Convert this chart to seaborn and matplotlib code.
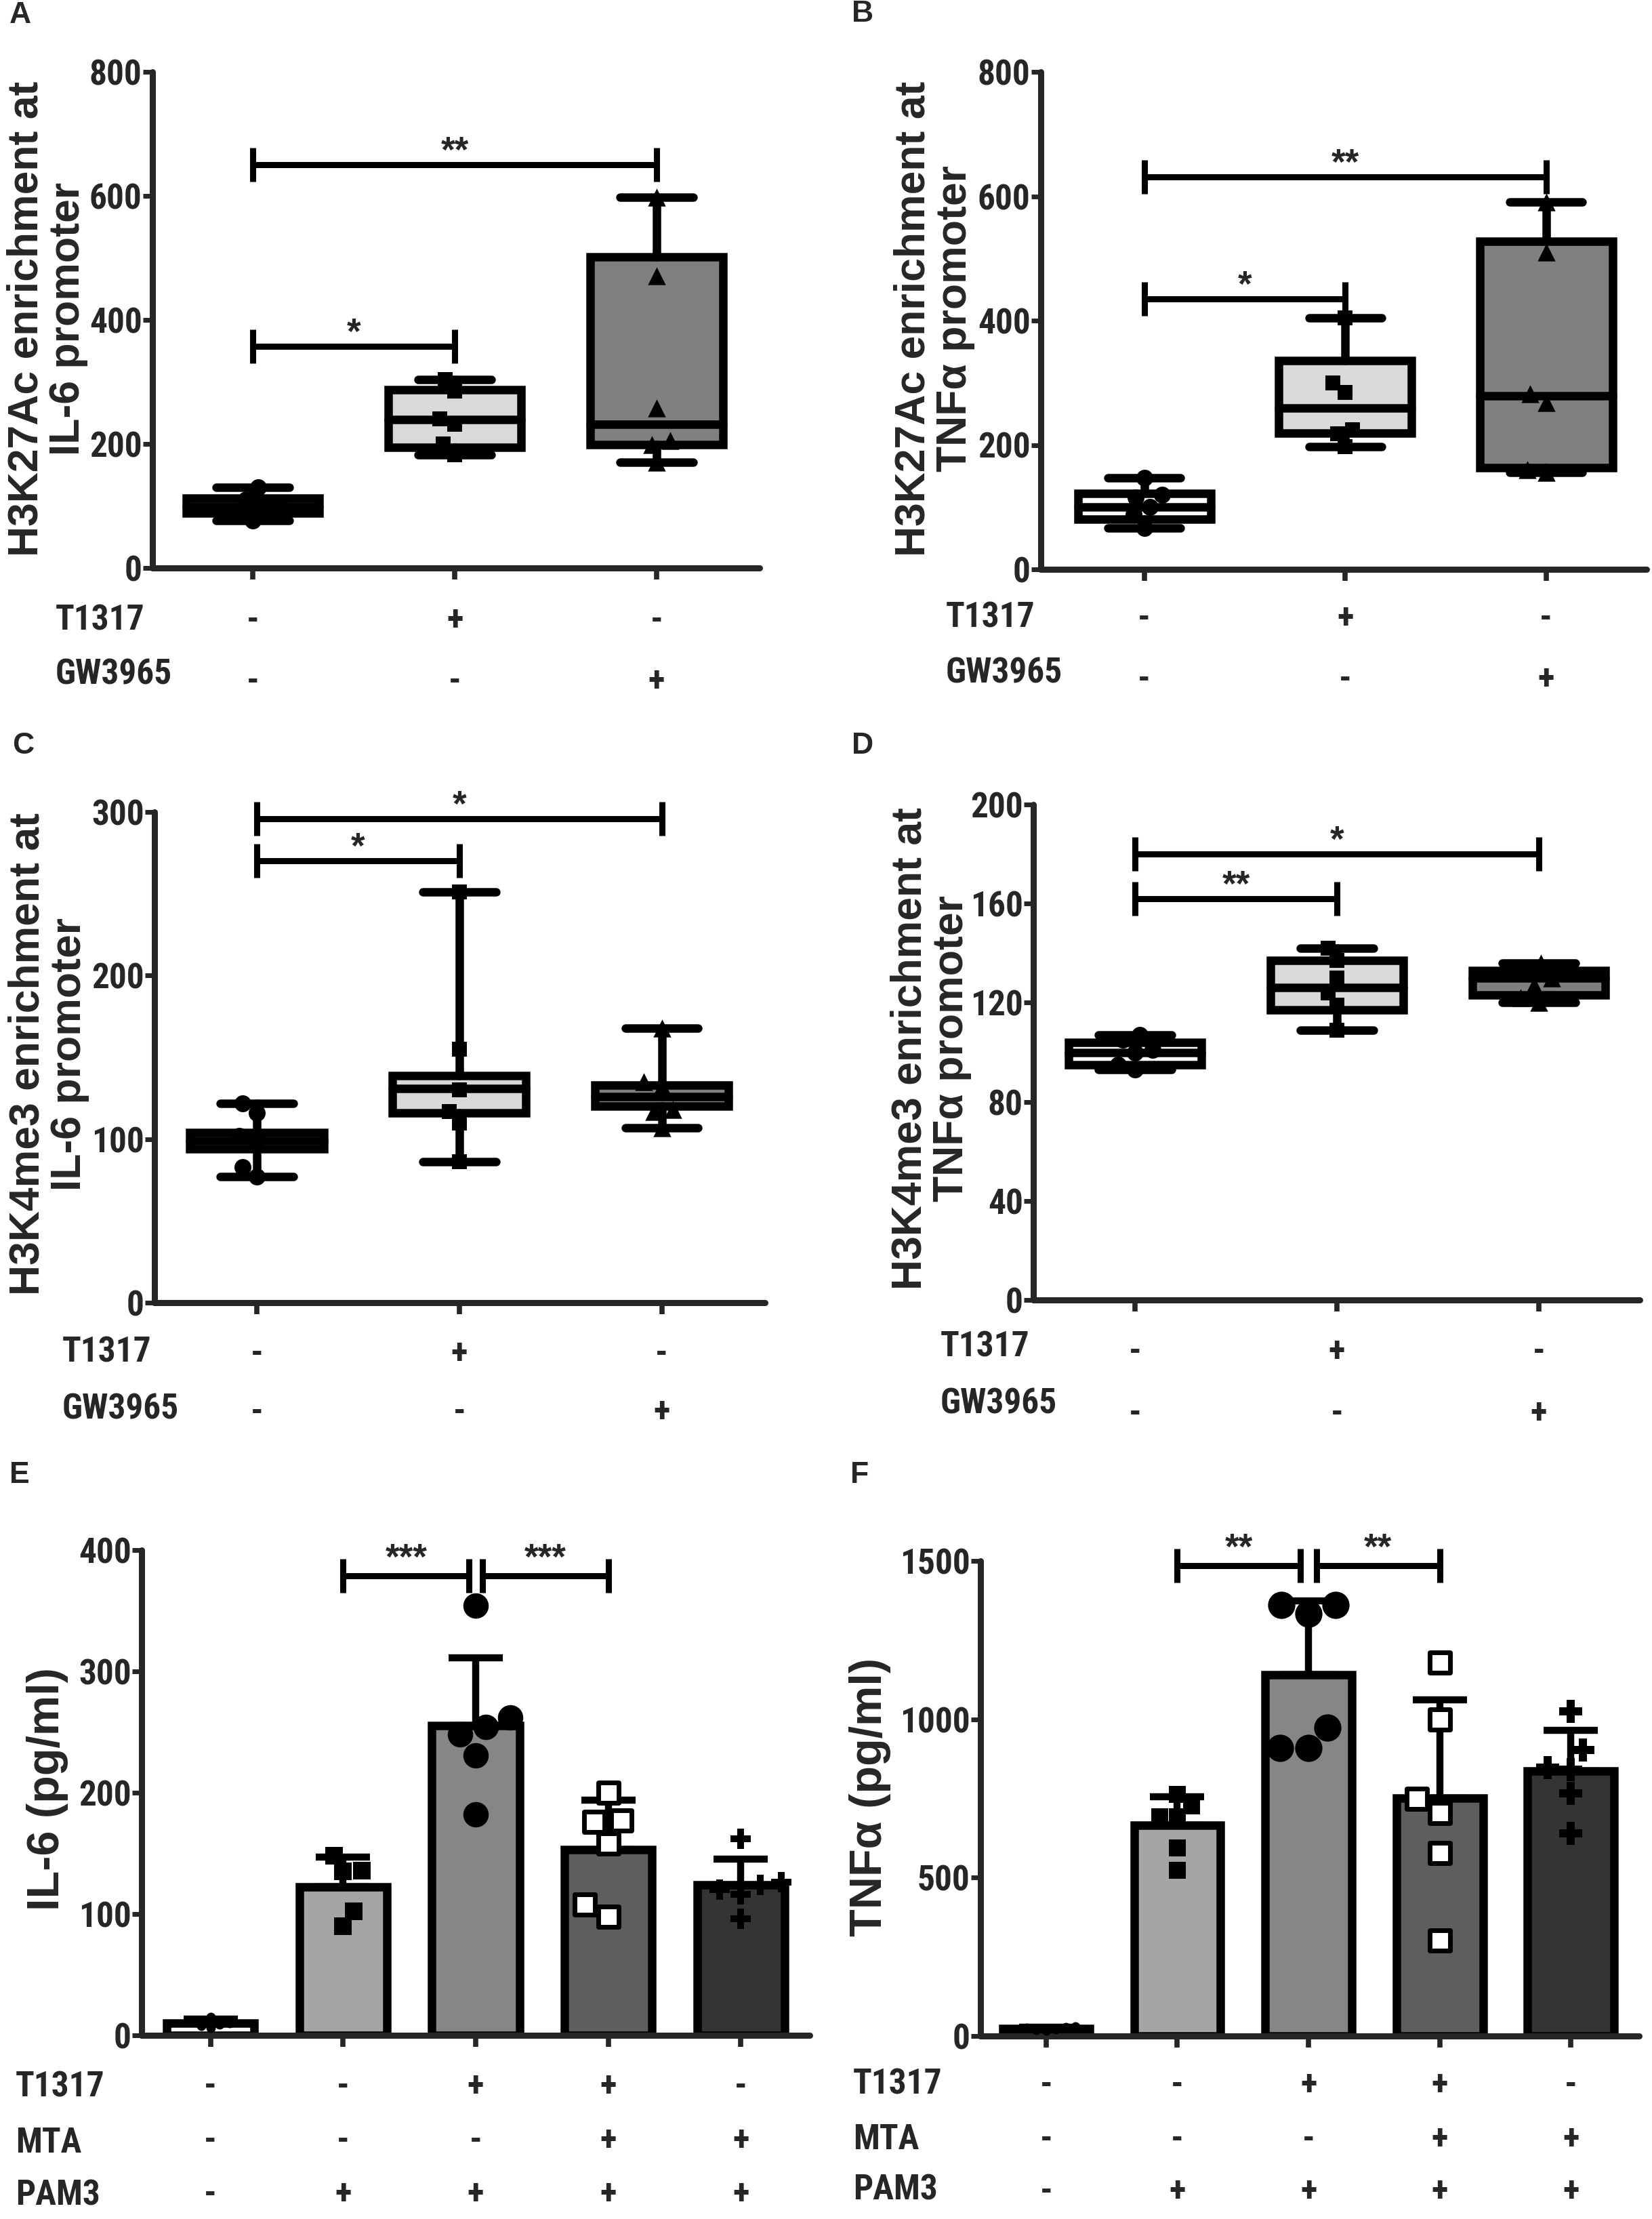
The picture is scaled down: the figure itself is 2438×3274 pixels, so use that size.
import matplotlib
matplotlib.use("Agg")
import matplotlib.pyplot as plt
import matplotlib.transforms as mtransforms
from matplotlib import font_manager as fm
import numpy as np
import pandas as pd
import seaborn as sns

# Global style, fonts are set after seaborn because set_style resets them
sns.set_style("ticks")
WIDE = ["Liberation Sans", "DejaVu Sans"]
plt.rcParams["font.family"] = WIDE
plt.rcParams["font.weight"] = "bold"

FIG_W, FIG_H = 2438, 3274
LW = 9


def find_narrow_bold():
    # GraphPad-like narrow bold face for tick labels, if one is installed
    prefer = ["liberation sans narrow", "arial narrow", "roboto condensed",
              "dejavu sans", "noto sans", "open sans"]
    found = []
    for f in fm.fontManager.ttflist:
        fn = f.fname.lower()
        nm = f.name.lower()
        narrow = ("narrow" in nm or "condensed" in nm or "narrow" in fn
                  or "condensed" in fn
                  or f.stretch in ("condensed", "semi-condensed", "extra-condensed"))
        bold = f.weight in ("bold", 700) or "bold" in fn
        if narrow and bold and "italic" not in fn and "oblique" not in fn \
                and "semibold" not in fn and "extrabold" not in fn:
            rank = next((i for i, p in enumerate(prefer) if nm.startswith(p)), 99)
            found.append((rank, f.fname))
    if not found:
        return None
    return sorted(found)[0][1]


NARROW_PATH = find_narrow_bold()
if NARROW_PATH:
    TICK_FONT = fm.FontProperties(fname=NARROW_PATH, size=37)
else:
    TICK_FONT = fm.FontProperties(family=WIDE, weight="bold", size=32)

# ---------------- data ----------------
box_groups = ["ctrl", "T1317", "GW3965"]
box_rows = ["T1317", "GW3965"]
box_signs = [["-", "+", "-"], ["-", "-", "+"]]

# Panel A: H3K27Ac at IL-6 promoter
a_points = [[130, 110, 105, 100, 85, 77],
            [304, 285, 240, 232, 200, 183],
            [598, 471, 258, 206, 199, 171]]
a_whislo = [77, 183, 171]
a_q1 = [88, 195, 199]
a_med = [99, 239, 232]
a_q3 = [113, 287, 502]
a_whishi = [130, 304, 598]

# Panel B: H3K27Ac at TNFa promoter
b_points = [[147, 120, 116, 100, 88, 66],
            [404, 300, 285, 225, 218, 197],
            [591, 510, 282, 268, 160, 156]]
b_whislo = [66, 197, 156]
b_q1 = [81, 219, 164]
b_med = [100, 259, 279]
b_q3 = [122, 336, 527]
b_whishi = [147, 404, 591]

# Panel C: H3K4me3 at IL-6 promoter
c_points = [[122, 116, 102, 100, 83, 77],
            [251, 155, 130, 117, 110, 86],
            [168, 135, 132, 118, 117, 107]]
c_whislo = [77, 86, 107]
c_q1 = [94, 116, 120]
c_med = [99, 131, 126]
c_q3 = [104, 139, 133]
c_whishi = [122, 251, 168]

# Panel D: H3K4me3 at TNFa promoter
d_points = [[107, 105, 101, 100, 95, 93],
            [142, 137, 130, 124, 119, 109],
            [136, 133, 130, 127, 122, 120]]
d_whislo = [93, 109, 120]
d_q1 = [95, 117, 123]
d_med = [100, 126, 130]
d_q3 = [104, 137, 133]
d_whishi = [107, 142, 136]

bar_groups = ["none", "PAM3", "PAM3+T1317", "PAM3+T1317+MTA", "PAM3+MTA"]
bar_rows = ["T1317", "MTA", "PAM3"]
bar_signs = [["-", "-", "+", "+", "-"],
             ["-", "-", "-", "+", "+"],
             ["-", "+", "+", "+", "+"]]

# Panel E: IL-6 (pg/ml)
e_points = [[15, 12, 10, 9, 8, 6],
            [148, 136, 135, 102, 90],
            [354, 262, 254, 248, 231, 182],
            [200, 177, 176, 158, 108, 98],
            [162, 126, 124, 120, 116, 96]]

# Panel F: TNFa (pg/ml)
f_points = [[30, 28, 25, 22, 20, 18],
            [763, 728, 694, 694, 594, 524],
            [1360, 1360, 1334, 974, 910, 910],
            [1179, 999, 748, 705, 578, 301],
            [1025, 902, 848, 840, 766, 640]]

# significance brackets: (start group, end group, height, label)
a_sig = [(0, 1, 357, "*"), (0, 2, 650, "**")]
b_sig = [(0, 1, 435, "*"), (0, 2, 631, "**")]
c_sig = [(0, 1, 270, "*"), (0, 2, 296, "*")]
d_sig = [(0, 1, 162, "**"), (0, 2, 180, "*")]
e_sig = [(1, 1.95, 379, "***"), (2.05, 3, 379, "***")]
f_sig = [(1, 1.94, 1485, "**"), (2.06, 3, 1485, "**")]

BOX_COLORS = ["white", "#d9d9d9", "#808080"]
BAR_COLORS = ["white", "#a4a4a9", "#868686", "#5e5e5e", "#343434"]
BOX_MARKERS = ["o", "s", "^"]
BOX_MSIZE = [18, 16, 19]


def make_axes(fig, left, right, top, bottom):
    return fig.add_axes([left / FIG_W, 1 - bottom / FIG_H,
                         (right - left) / FIG_W, (bottom - top) / FIG_H])


def long_frame(groups, points):
    rows = []
    for g, vals in zip(groups, points):
        for v in vals:
            rows.append({"group": g, "value": v})
    return pd.DataFrame(rows)


def style_axes(ax, n, ymax, yticks, xlim):
    ax.set_ylim(0, ymax)
    ax.set_xlim(*xlim)
    ax.set_yticks(yticks)
    ax.set_yticklabels([str(t) for t in yticks])
    ax.set_xticks(range(n))
    ax.set_xticklabels([])
    ax.set_xlabel("")
    ax.set_ylabel("")
    sns.despine(ax=ax)
    for side in ["left", "bottom"]:
        ax.spines[side].set_linewidth(6.5)
        ax.spines[side].set_capstyle("round")
    ax.tick_params(axis="y", width=5, length=10, pad=1)
    ax.tick_params(axis="x", width=5.5, length=12)
    for lbl in ax.get_yticklabels():
        lbl.set_fontproperties(TICK_FONT)


def add_brackets(ax, sig, star_off=4):
    # half height of the bracket ends, in data units (about 25 px)
    ymax = ax.get_ylim()[1]
    ax_h = ax.get_position().height * FIG_H
    h = ymax * 25 / ax_h
    off = ymax * star_off / ax_h
    for x0, x1, y, stars in sig:
        kw = dict(color="black", lw=6.5, clip_on=False, solid_capstyle="butt")
        ax.plot([x0, x1], [y, y], **kw)
        ax.plot([x0, x0], [y - h, y + h], **kw)
        ax.plot([x1, x1], [y - h, y + h], **kw)
        ax.text((x0 + x1) / 2, y + off, stars, ha="center", va="baseline",
                fontsize=38, family=WIDE, weight="bold")


def add_rows(fig, ax, rows, signs, row_x, row_y, sign_y):
    trans = mtransforms.blended_transform_factory(ax.transData, fig.transFigure)
    for name, marks, ry, sy in zip(rows, signs, row_y, sign_y):
        fig.text(row_x / FIG_W, 1 - ry / FIG_H, name, ha="left", va="center",
                 fontproperties=TICK_FONT)
        for i, s in enumerate(marks):
            ax.text(i, 1 - sy / FIG_H, s, transform=trans, ha="center",
                    va="center", fontproperties=TICK_FONT)


def box_panel(fig, rect, points, whislo, q1, med, q3, whishi, ymax, yticks,
              xlim, sig, ylabel, ylabel_xy, letter, letter_xy,
              row_x, row_y, sign_y):
    ax = make_axes(fig, *rect)
    df = long_frame(box_groups, points)

    stats = []
    for i in range(len(box_groups)):
        stats.append({"whislo": whislo[i], "q1": q1[i], "med": med[i],
                      "q3": q3[i], "whishi": whishi[i], "fliers": []})
    bp = ax.bxp(stats, positions=range(len(box_groups)), widths=0.66,
                capwidths=0.36, patch_artist=True, showfliers=False,
                manage_ticks=False,
                boxprops=dict(edgecolor="black", linewidth=LW),
                medianprops=dict(color="black", linewidth=LW,
                                 solid_capstyle="round"),
                whiskerprops=dict(color="black", linewidth=LW),
                capprops=dict(color="black", linewidth=LW,
                              solid_capstyle="round"))
    for patch, c in zip(bp["boxes"], BOX_COLORS):
        patch.set_facecolor(c)

    for g, m, s in zip(box_groups, BOX_MARKERS, BOX_MSIZE):
        sns.swarmplot(data=df[df["group"] == g], x="group", y="value",
                      order=box_groups, marker=m, size=s, color="black",
                      ax=ax, zorder=5, warn_thresh=1)

    style_axes(ax, len(box_groups), ymax, yticks, xlim)
    add_brackets(ax, sig)
    add_rows(fig, ax, box_rows, box_signs, row_x, row_y, sign_y)
    fig.text(ylabel_xy[0] / FIG_W, 1 - ylabel_xy[1] / FIG_H, ylabel,
             rotation=90, ha="center", va="center", multialignment="center",
             fontsize=45, family=WIDE, weight="bold", linespacing=1.05)
    fig.text(letter_xy[0] / FIG_W, 1 - letter_xy[1] / FIG_H, letter,
             ha="left", va="top", fontsize=32, family=WIDE, weight="bold")
    return ax


def bar_panel(fig, rect, points, ymax, yticks, xlim, sig, ylabel, ylabel_xy,
              letter, letter_xy, row_x, row_y, sign_y, sizes):
    ax = make_axes(fig, *rect)
    df = long_frame(bar_groups, points)

    sns.barplot(data=df, x="group", y="value", order=bar_groups, hue="group",
                hue_order=bar_groups, palette=BAR_COLORS, legend=False,
                errorbar=None, width=0.66, edgecolor="black", linewidth=LW,
                ax=ax)

    # mean + SD, drawn upwards only
    grp = df.groupby("group")["value"]
    means = grp.mean().reindex(bar_groups).values
    sds = grp.std().reindex(bar_groups).values
    n = len(bar_groups)
    ax.errorbar(range(n), means, yerr=[np.zeros(n), sds], fmt="none",
                ecolor="black", elinewidth=7.5, capsize=29, capthick=7.5,
                zorder=3)

    markers = ["o", "s", "o", "s", "P"]
    for i, g in enumerate(bar_groups):
        sub = df[df["group"] == g]
        if i == 3:
            sns.swarmplot(data=sub, x="group", y="value", order=bar_groups,
                          marker="s", size=sizes[i], color="white",
                          edgecolor="black", linewidth=5, ax=ax, zorder=5,
                          warn_thresh=1)
        else:
            sns.swarmplot(data=sub, x="group", y="value", order=bar_groups,
                          marker=markers[i], size=sizes[i], color="black",
                          ax=ax, zorder=5, warn_thresh=1)

    style_axes(ax, n, ymax, yticks, xlim)
    add_brackets(ax, sig, star_off=10)
    add_rows(fig, ax, bar_rows, bar_signs, row_x, row_y, sign_y)
    fig.text(ylabel_xy[0] / FIG_W, 1 - ylabel_xy[1] / FIG_H, ylabel,
             rotation=90, ha="center", va="center", fontsize=48,
             family=WIDE, weight="bold")
    fig.text(letter_xy[0] / FIG_W, 1 - letter_xy[1] / FIG_H, letter,
             ha="left", va="top", fontsize=32, family=WIDE, weight="bold")
    return ax


if __name__ == "__main__":
    fig = plt.figure(figsize=(FIG_W / 100, FIG_H / 100), dpi=100)

    box_panel(fig, (225, 1121, 106, 838), a_points, a_whislo, a_q1, a_med,
              a_q3, a_whishi, 800, [0, 200, 400, 600, 800], (-0.497, 2.51),
              a_sig, "H3K27Ac enrichment at\nIL-6 promoter", (70, 470),
              "A", (14, 2), 82, (915, 996), (916, 1006))
    box_panel(fig, (1536, 2430, 106, 840), b_points, b_whislo, b_q1, b_med,
              b_q3, b_whishi, 800, [0, 200, 400, 600, 800], (-0.515, 2.5),
              b_sig, "H3K27Ac enrichment at\nTNF\u03b1 promoter", (1379, 470),
              "B", (1257, 0), 1396, (912, 993), (913, 1003))
    box_panel(fig, (228, 1129, 1198, 1922), c_points, c_whislo, c_q1, c_med,
              c_q3, c_whishi, 300, [0, 100, 200, 300], (-0.505, 2.51),
              c_sig, "H3K4me3 enrichment at\nIL-6 promoter", (72, 1555),
              "C", (18, 1080), 92, (1995, 2079), (1998, 2084))
    box_panel(fig, (1525, 2420, 1187, 1918), d_points, d_whislo, d_q1, d_med,
              d_q3, d_whishi, 200, [0, 40, 80, 120, 160, 200], (-0.503, 2.5),
              d_sig, "H3K4me3 enrichment at\nTNF\u03b1 promoter", (1374, 1547),
              "D", (1257, 1080), 1388, (1988, 2072), (1995, 2086))
    bar_panel(fig, (209, 1195, 2287, 3003), e_points, 400,
              [0, 100, 200, 300, 400], (-0.52, 4.52), e_sig,
              "IL-6 (pg/ml)", (70, 2640), "E", (14, 2156),
              23, (3079, 3162, 3240), (3079, 3159, 3238),
              [10, 19, 27, 22, 22])
    bar_panel(fig, (1447, 2419, 2303, 3004), f_points, 1500,
              [0, 500, 1000, 1500], (-0.50, 4.52), f_sig,
              "TNF\u03b1 (pg/ml)", (1284, 2651), "F", (1255, 2156),
              1259, (3075, 3157, 3232), (3077, 3157, 3234),
              [10, 18, 29, 22, 24])

    fig.savefig("out.png", dpi=100)
    plt.close(fig)
